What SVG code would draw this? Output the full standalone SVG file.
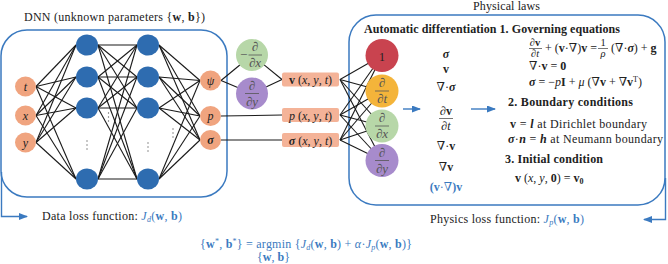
<svg xmlns="http://www.w3.org/2000/svg" width="668" height="264" viewBox="0 0 668 264" font-family="'Liberation Serif', 'Times New Roman', serif">
<style>
text{font-family:'Liberation Serif','Times New Roman','DejaVu Serif',serif;font-size:12px;fill:#222}
.i{font-style:italic}.b{font-weight:bold}.bi{font-weight:bold;font-style:italic}
.blue{fill:#3b7ac0}
.c{text-anchor:middle}
.frame{fill:none;stroke:#3b7ac0;stroke-width:1.5}
.arr{fill:none;stroke:#3b7ac0;stroke-width:1.4}
.ln{stroke:#1a1a1a;stroke-width:1.1}
.hid{fill:#2e6cb0}
.sal{fill:#f0a47f}
.box{fill:#f4b398}
.fl{stroke:#555;stroke-width:0.8}
.dot{fill:#666}
.h{font-weight:bold}
.ct{fill:#555;font-size:13px}
.fr{font-size:10.5px}
</style>
<defs>
<marker id="ah" markerWidth="9" markerHeight="7" refX="8" refY="3.5" orient="auto" markerUnits="userSpaceOnUse">
<path d="M0,0 L9,3.5 L0,7 z" fill="#3b7ac0"/>
</marker>
</defs>

<!-- titles -->
<text x="24" y="21" font-size="12.4" textLength="181">DNN (unknown parameters {<tspan class="b">w</tspan>, <tspan class="b">b</tspan>})</text>
<text x="473" y="10" textLength="67">Physical laws</text>

<!-- frames -->
<rect class="frame" x="1" y="30" width="226" height="167" rx="26"/>
<rect class="frame" x="349" y="15" width="316" height="190" rx="27"/>

<!-- connectors -->
<g id="connectors">
<g class="ln">
<line x1="36" y1="86.5" x2="76" y2="45"/><line x1="36" y1="86.5" x2="76" y2="77"/><line x1="36" y1="86.5" x2="76" y2="108"/><line x1="36" y1="86.5" x2="76" y2="179"/>
<line x1="36" y1="115.5" x2="76" y2="45"/><line x1="36" y1="115.5" x2="76" y2="77"/><line x1="36" y1="115.5" x2="76" y2="108"/><line x1="36" y1="115.5" x2="76" y2="179"/>
<line x1="36" y1="142.5" x2="76" y2="45"/><line x1="36" y1="142.5" x2="76" y2="77"/><line x1="36" y1="142.5" x2="76" y2="108"/><line x1="36" y1="142.5" x2="76" y2="179"/>
<line x1="98" y1="45" x2="137" y2="45"/><line x1="98" y1="45" x2="137" y2="77"/><line x1="98" y1="45" x2="137" y2="108"/><line x1="98" y1="45" x2="137" y2="179"/>
<line x1="98" y1="77" x2="137" y2="45"/><line x1="98" y1="77" x2="137" y2="77"/><line x1="98" y1="77" x2="137" y2="108"/><line x1="98" y1="77" x2="137" y2="179"/>
<line x1="98" y1="108" x2="137" y2="45"/><line x1="98" y1="108" x2="137" y2="77"/><line x1="98" y1="108" x2="137" y2="108"/><line x1="98" y1="108" x2="137" y2="179"/>
<line x1="98" y1="179" x2="137" y2="45"/><line x1="98" y1="179" x2="137" y2="77"/><line x1="98" y1="179" x2="137" y2="108"/><line x1="98" y1="179" x2="137" y2="179"/>
<line x1="159" y1="45" x2="200" y2="80.5"/><line x1="159" y1="45" x2="200" y2="116"/><line x1="159" y1="45" x2="200" y2="140"/>
<line x1="159" y1="77" x2="200" y2="80.5"/><line x1="159" y1="77" x2="200" y2="116"/><line x1="159" y1="77" x2="200" y2="140"/>
<line x1="159" y1="108" x2="200" y2="80.5"/><line x1="159" y1="108" x2="200" y2="116"/><line x1="159" y1="108" x2="200" y2="140"/>
<line x1="159" y1="179" x2="200" y2="80.5"/><line x1="159" y1="179" x2="200" y2="116"/><line x1="159" y1="179" x2="200" y2="140"/>
<line x1="221" y1="80.5" x2="252" y2="55"/><line x1="221" y1="80.5" x2="252" y2="93.5"/>
<line x1="252" y1="55" x2="282" y2="79.5"/><line x1="252" y1="93.5" x2="282" y2="79.5"/>
<line x1="221" y1="116" x2="282" y2="115"/>
<line x1="221" y1="140" x2="282" y2="140"/>
<line x1="340" y1="79.5" x2="382" y2="55.5"/><line x1="340" y1="79.5" x2="382" y2="91"/><line x1="340" y1="79.5" x2="382" y2="126"/><line x1="340" y1="79.5" x2="382" y2="160.5"/>
<line x1="340" y1="115" x2="382" y2="55.5"/><line x1="340" y1="115" x2="382" y2="91"/><line x1="340" y1="115" x2="382" y2="126"/><line x1="340" y1="115" x2="382" y2="160.5"/>
<line x1="340" y1="140" x2="382" y2="55.5"/><line x1="340" y1="140" x2="382" y2="91"/><line x1="340" y1="140" x2="382" y2="126"/><line x1="340" y1="140" x2="382" y2="160.5"/>
</g>
<path class="arr" d="M1.5,172 V216.5 H27" marker-end="url(#ah)"/>
<path class="arr" d="M665.5,178 V219.5 H644" marker-end="url(#ah)"/>
<path class="arr" d="M403,109 H420" marker-end="url(#ah)"/>
<path class="arr" d="M471,109 H495" marker-end="url(#ah)"/>
</g>

<!-- input nodes -->
<g id="in-t"><ellipse class="sal" cx="25.5" cy="86.5" rx="10.5" ry="10"/><text class="i c" x="25.5" y="91" font-size="13">t</text></g>
<g id="in-x"><ellipse class="sal" cx="25.5" cy="115.5" rx="10.5" ry="10"/><text class="i c" x="25.5" y="119.5" font-size="13">x</text></g>
<g id="in-y"><ellipse class="sal" cx="25.5" cy="142.5" rx="10.5" ry="10"/><text class="i c" x="25.5" y="146.5" font-size="13">y</text></g>

<!-- hidden layer 1 -->
<g id="h1-1"><ellipse class="hid" cx="87" cy="45" rx="11" ry="10.5"/></g>
<g id="h1-2"><ellipse class="hid" cx="87" cy="77" rx="11" ry="10.5"/></g>
<g id="h1-3"><ellipse class="hid" cx="87" cy="108" rx="11" ry="10.5"/></g>
<g id="h1-4"><ellipse class="hid" cx="87" cy="179" rx="11" ry="10.5"/></g>
<!-- hidden layer 2 -->
<g id="h2-1"><ellipse class="hid" cx="148" cy="45" rx="11" ry="10.5"/></g>
<g id="h2-2"><ellipse class="hid" cx="148" cy="77" rx="11" ry="10.5"/></g>
<g id="h2-3"><ellipse class="hid" cx="148" cy="108" rx="11" ry="10.5"/></g>
<g id="h2-4"><ellipse class="hid" cx="148" cy="179" rx="11" ry="10.5"/></g>

<!-- ellipsis dots -->
<g id="dots">
<circle class="dot" cx="87" cy="141" r="0.7"/><circle class="dot" cx="87" cy="145" r="0.7"/><circle class="dot" cx="87" cy="149" r="0.7"/>
<circle class="dot" cx="148" cy="143" r="0.7"/><circle class="dot" cx="148" cy="147" r="0.7"/><circle class="dot" cx="148" cy="151" r="0.7"/>
<circle class="dot" cx="108.5" cy="113" r="0.7"/><circle class="dot" cx="108.5" cy="117" r="0.7"/><circle class="dot" cx="108.5" cy="121" r="0.7"/>
<circle class="dot" cx="173" cy="129" r="0.7"/><circle class="dot" cx="173" cy="133" r="0.7"/><circle class="dot" cx="173" cy="137" r="0.7"/>
</g>

<!-- output nodes -->
<g id="out-psi"><ellipse class="sal" cx="210.5" cy="80.5" rx="10.5" ry="10"/><text class="i c" x="210.5" y="85" font-size="13">ψ</text></g>
<g id="out-p"><ellipse class="sal" cx="210.5" cy="116" rx="10.5" ry="10"/><text class="i c" x="210.5" y="120" font-size="13">p</text></g>
<g id="out-sigma"><ellipse class="sal" cx="210.5" cy="140" rx="10.5" ry="10"/><text class="bi c" x="210.5" y="144" font-size="13">σ</text></g>

<!-- derivative circles (left) -->
<g id="dx-left"><circle cx="252" cy="55" r="16" fill="#b7d7a8"/>
<text class="ct" x="240" y="59">−</text>
<text class="ct c" x="255" y="51">∂</text><line class="fl" x1="248.5" y1="55" x2="262" y2="55"/><text class="ct c" x="255" y="67">∂<tspan class="i">x</tspan></text></g>
<g id="dy-left"><circle cx="252" cy="93.5" r="16" fill="#a78bcc"/>
<text class="ct c" x="252" y="89.5">∂</text><line class="fl" x1="245" y1="93.5" x2="259" y2="93.5"/><text class="ct c" x="252" y="105.5">∂<tspan class="i">y</tspan></text></g>

<!-- field boxes -->
<g id="box-v"><rect class="box" x="282" y="72.5" width="57" height="14" rx="2"/><text class="c" x="310.5" y="84"><tspan class="b">v</tspan> (<tspan class="i">x</tspan>, <tspan class="i">y</tspan>, <tspan class="i">t</tspan>)</text></g>
<g id="box-p"><rect class="box" x="282" y="108" width="57" height="14" rx="2"/><text class="c" x="310.5" y="119.5"><tspan class="i">p</tspan> (<tspan class="i">x</tspan>, <tspan class="i">y</tspan>, <tspan class="i">t</tspan>)</text></g>
<g id="box-sigma"><rect class="box" x="282" y="133" width="57" height="14" rx="2"/><text class="c" x="310.5" y="144.5"><tspan class="bi">σ</tspan> (<tspan class="i">x</tspan>, <tspan class="i">y</tspan>, <tspan class="i">t</tspan>)</text></g>

<!-- AD circles -->
<g id="ad-1"><circle cx="382" cy="55.5" r="16.5" fill="#c9434f"/><text class="c" x="382" y="60.5" font-size="14" fill="#4a1a1a">1</text></g>
<g id="ad-dt"><circle cx="382" cy="91" r="16.5" fill="#f4b43a"/>
<text class="ct c" x="382" y="87">∂</text><line class="fl" x1="375" y1="91" x2="389" y2="91"/><text class="ct c" x="382" y="103">∂<tspan class="i">t</tspan></text></g>
<g id="ad-dx"><circle cx="382" cy="126" r="16.5" fill="#b7d7a8"/>
<text class="ct c" x="382" y="122">∂</text><line class="fl" x1="375" y1="126" x2="389" y2="126"/><text class="ct c" x="382" y="138">∂<tspan class="i">x</tspan></text></g>
<g id="ad-dy"><circle cx="382" cy="160.5" r="16.5" fill="#a78bcc"/>
<text class="ct c" x="382" y="156.5">∂</text><line class="fl" x1="375" y1="160.5" x2="389" y2="160.5"/><text class="ct c" x="382" y="172.5">∂<tspan class="i">y</tspan></text></g>

<!-- AD outputs column -->
<g id="ad-terms">
<text class="c bi" x="446" y="58">σ</text>
<text class="c b" x="446" y="73">v</text>
<text class="c" x="446" y="91">∇·<tspan class="bi">σ</tspan></text>
<text class="c" x="446" y="115">∂<tspan class="b">v</tspan></text>
<line class="fl" x1="439" y1="118.5" x2="453" y2="118.5"/>
<text class="c" x="446" y="130">∂<tspan class="i">t</tspan></text>
<text class="c" x="446" y="150">∇·<tspan class="b">v</tspan></text>
<text class="c" x="446" y="171">∇<tspan class="b">v</tspan></text>
<text class="c blue" x="446" y="191"><tspan class="b">(</tspan><tspan class="b">v</tspan>·∇<tspan class="b">)v</tspan></text>
</g>

<!-- laws text -->
<g id="laws">
<text class="h" x="364" y="33" textLength="256">Automatic differentiation 1. Governing equations</text>
<text class="c fr" x="535" y="45.5">∂<tspan class="b">v</tspan></text>
<line class="fl" x1="529" y1="48.5" x2="542" y2="48.5"/>
<text class="c fr" x="535" y="57">∂<tspan class="i">t</tspan></text>
<text x="545" y="52">+ (<tspan class="b">v</tspan>·∇)<tspan class="b">v</tspan> =</text>
<text class="c fr" x="603" y="45.5">1</text>
<line class="fl" x1="598" y1="48.5" x2="608" y2="48.5"/>
<text class="c i fr" x="603" y="57">ρ</text>
<text x="611" y="52">(∇·<tspan class="bi">σ</tspan>) + <tspan class="b">g</tspan></text>
<text x="529" y="70">∇·<tspan class="b">v</tspan> = <tspan class="b">0</tspan></text>
<text x="529" y="86"><tspan class="bi">σ</tspan> = −<tspan class="i">p</tspan><tspan class="b">I</tspan> + <tspan class="i">μ</tspan> (∇<tspan class="b">v</tspan> + ∇<tspan class="b">v</tspan><tspan font-size="8" dy="-4">T</tspan><tspan dy="4">)</tspan></text>
<text class="h" x="508" y="106" textLength="125">2. Boundary conditions</text>
<text x="510" y="128" textLength="137"><tspan class="b">v</tspan> = <tspan class="bi">l</tspan> at Dirichlet boundary</text>
<text x="508" y="143" textLength="155"><tspan class="bi">σ</tspan>·<tspan class="bi">n</tspan> = <tspan class="bi">h</tspan> at Neumann boundary</text>
<text class="h" x="505" y="163" textLength="98">3. Initial condition</text>
<text x="515" y="182"><tspan class="b">v</tspan> (<tspan class="i">x</tspan>, <tspan class="i">y</tspan>, <tspan class="b">0</tspan>) = <tspan class="b">v</tspan><tspan class="b" font-size="8" dy="2">0</tspan></text>
</g>

<!-- loss labels -->
<g id="losses">
<text x="42" y="220" textLength="140">Data loss function: <tspan class="blue i">J</tspan><tspan class="blue i" font-size="8" dy="2">d</tspan><tspan class="blue" dy="-2">(</tspan><tspan class="blue b">w</tspan><tspan class="blue">, </tspan><tspan class="blue b">b</tspan><tspan class="blue">)</tspan></text>
<text x="430" y="223" textLength="154">Physics loss function: <tspan class="blue i">J</tspan><tspan class="blue i" font-size="8" dy="2">p</tspan><tspan class="blue" dy="-2">(</tspan><tspan class="blue b">w</tspan><tspan class="blue">, </tspan><tspan class="blue b">b</tspan><tspan class="blue">)</tspan></text>
<text class="blue" x="200" y="248" textLength="212">{<tspan class="b">w</tspan><tspan font-size="8" dy="-4">*</tspan><tspan dy="4">, </tspan><tspan class="b">b</tspan><tspan font-size="8" dy="-4">*</tspan><tspan dy="4">} = argmin {</tspan><tspan class="i">J</tspan><tspan class="i" font-size="8" dy="2">d</tspan><tspan dy="-2">(</tspan><tspan class="b">w</tspan>, <tspan class="b">b</tspan>) + <tspan class="i">α</tspan>·<tspan class="i">J</tspan><tspan class="i" font-size="8" dy="2">p</tspan><tspan dy="-2">(</tspan><tspan class="b">w</tspan>, <tspan class="b">b</tspan>)}</text>
<text class="blue" x="257" y="261">{<tspan class="b">w</tspan>, <tspan class="b">b</tspan>}</text>
</g>
</svg>
